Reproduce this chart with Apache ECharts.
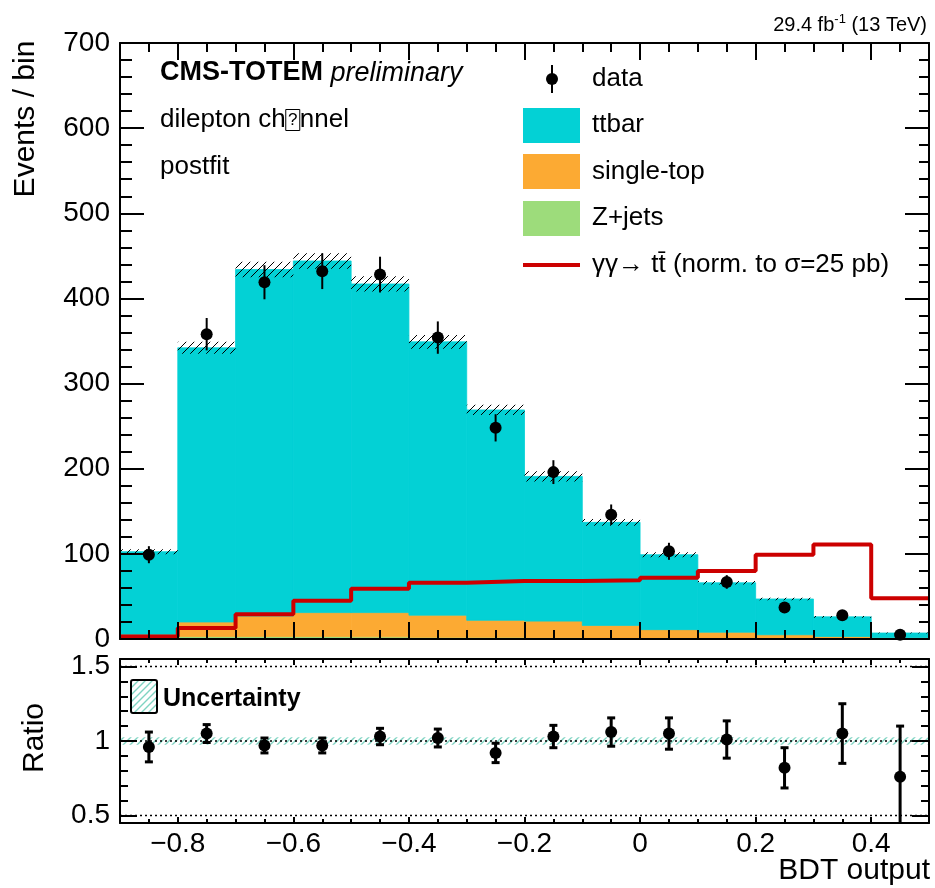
<!DOCTYPE html>
<html>
<head>
<meta charset="utf-8">
<title>BDT output</title>
<script src="https://cdn.jsdelivr.net/npm/echarts@6/dist/echarts.min.js"></script>
<style>
  html, body { margin: 0; padding: 0; background: #fff; }
  #chart { width: 935px; height: 888px; }
</style>
</head>
<body>
<div id="chart"></div>
<script>
// bin edges of the BDT output histogram
const binEdges = [-0.9, -0.8, -0.7, -0.6, -0.5, -0.4, -0.3, -0.2, -0.1, 0, 0.1, 0.2, 0.3, 0.4, 0.5];

// stacked backgrounds (events / bin)
const zjets = [1, 3, 3, 3, 2.5, 2, 2, 1.5, 1, 1, 0.5, 0.5, 0.3, 0.2];
const singleTop = [4.5, 17, 24, 28, 28.5, 26, 20, 19.5, 15, 10, 7.5, 4.5, 2.7, 1.3];
const ttbar = [97, 322, 407, 413, 386, 321, 247, 170, 121, 88, 58, 42, 23, 5.5];
const mcUnc = [3, 7, 9, 9, 9, 8, 6, 6, 4, 3, 2, 1.5, 1, 0.5];

// signal gg -> tt (norm. to 25 pb)
const signal = [3, 13, 29, 45, 59, 66, 68, 68, 69, 72, 80, 99, 111, 48];

// data
const dataCounts = [99, 358, 419, 432, 428, 354, 248, 196, 146, 103, 67, 37, 28, 5];
const dataErr = [10, 19, 20, 21, 21, 19, 16, 14, 12, 10, 8, 6, 5, 2.2];

// ratio panel
const ratio = [0.96, 1.05, 0.97, 0.97, 1.03, 1.02, 0.92, 1.03, 1.06, 1.05, 1.01, 0.82, 1.05, 0.76];
const ratioErr = [0.10, 0.06, 0.05, 0.05, 0.055, 0.06, 0.065, 0.075, 0.095, 0.105, 0.125, 0.135, 0.2, 0.34];
const ratioUnc = [0.025, 0.025, 0.025, 0.025, 0.025, 0.025, 0.025, 0.025, 0.025, 0.025, 0.025, 0.025, 0.025, 0.025];
const refLines = [0.5, 1, 1.5];

// ticks
const xTicks = [-0.8, -0.6, -0.4, -0.2, 0, 0.2, 0.4];
const ratioTicks = [0.5, 1, 1.5];

const FONT = 'Liberation Sans, Arial, Helvetica, sans-serif';
const cTT = '#03d1d5', cST = '#fcaa33', cZ = '#9ddc7b', cSig = '#cc0000', cBand = '#7fd4c2';

const xMinor = [];
for (let k = -18; k <= 10; k++) xMinor.push(+(k * 0.05).toFixed(2));
const rMinor = [];
for (let k = 5; k <= 15; k++) rMinor.push(+(k * 0.1).toFixed(1));

function hatch(color, step, lw) {
  const c = document.createElement('canvas');
  c.width = step; c.height = step;
  const g = c.getContext('2d');
  g.strokeStyle = color; g.lineWidth = lw;
  g.beginPath();
  g.moveTo(0, step); g.lineTo(step, 0);
  g.moveTo(-2, 2); g.lineTo(2, -2);
  g.moveTo(step - 2, step + 2); g.lineTo(step + 2, step - 2);
  g.stroke();
  return c;
}
const blackHatch = { image: hatch('#000', 8, 1), repeat: 'repeat' };
const tealHatch = { image: hatch(cBand, 7, 1.4), repeat: 'repeat' };

// build rect items [x0, x1, ylow, yhigh]
const zRects = [], stRects = [], ttRects = [], uncRects = [], rUncRects = [];
const dataPts = [], dataBars = [], ratioPts = [], ratioBars = [], sigLine = [];
for (let i = 0; i < ttbar.length; i++) {
  const x0 = binEdges[i], x1 = binEdges[i + 1], xc = (x0 + x1) / 2;
  const a = zjets[i], b = a + singleTop[i], c = b + ttbar[i];
  zRects.push([x0, x1, 0, a]);
  stRects.push([x0, x1, a, b]);
  ttRects.push([x0, x1, b, c]);
  uncRects.push([x0, x1, c - mcUnc[i], c + mcUnc[i]]);
  rUncRects.push([x0, x1, 1 - ratioUnc[i], 1 + ratioUnc[i]]);
  dataPts.push([xc, dataCounts[i]]);
  dataBars.push([xc, dataCounts[i] - dataErr[i], dataCounts[i] + dataErr[i]]);
  ratioPts.push([xc, ratio[i]]);
  ratioBars.push([xc, ratio[i] - ratioErr[i], ratio[i] + ratioErr[i]]);
  sigLine.push([x0, signal[i]]);
}
sigLine.push([binEdges[binEdges.length - 1], signal[signal.length - 1]]);

function rectSeries(data, fill, z, xi, yi, solid) {
  return {
    type: 'custom', xAxisIndex: xi, yAxisIndex: yi, z: z, data: data,
    encode: { x: [0, 1], y: [2, 3] },
    renderItem: function (params, api) {
      const p0 = api.coord([api.value(0), api.value(3)]);
      const p1 = api.coord([api.value(1), api.value(2)]);
      const style = { fill: fill };
      if (solid) { style.stroke = fill; style.lineWidth = 0.8; }
      return {
        type: 'rect',
        shape: { x: p0[0], y: p0[1], width: p1[0] - p0[0], height: p1[1] - p0[1] },
        style: style
      };
    }
  };
}

function barSeries(data, xi, yi, width, cap, yClamp) {
  return {
    type: 'custom', xAxisIndex: xi, yAxisIndex: yi, z: 6, data: data,
    encode: { x: 0, y: [1, 2] },
    renderItem: function (params, api) {
      const lo = yClamp != null ? Math.max(api.value(1), yClamp) : api.value(1);
      const p0 = api.coord([api.value(0), lo]);
      const p1 = api.coord([api.value(0), api.value(2)]);
      const st = { stroke: '#000', lineWidth: width };
      const kids = [{ type: 'line', shape: { x1: p0[0], y1: p0[1], x2: p1[0], y2: p1[1] }, style: st }];
      if (cap) {
        kids.push({ type: 'line', shape: { x1: p1[0] - cap, y1: p1[1], x2: p1[0] + cap, y2: p1[1] }, style: st });
        if (yClamp == null || api.value(1) > yClamp)
          kids.push({ type: 'line', shape: { x1: p0[0] - cap, y1: p0[1], x2: p0[0] + cap, y2: p0[1] }, style: st });
      }
      return { type: 'group', children: kids };
    }
  };
}

const tickStyle = { color: '#000', width: 2 };

function xAx(grid, pos, ticks, len, opts) {
  opts = opts || {};
  return {
    type: 'value', gridIndex: grid, position: pos, min: -0.9, max: 0.5, z: 10,
    axisLine: { show: !!opts.line, onZero: false, lineStyle: { color: '#000', width: 2 } },
    axisTick: { show: true, inside: true, length: len, customValues: ticks, lineStyle: tickStyle },
    axisLabel: opts.labels ? {
      show: true, customValues: ticks, color: '#000', fontFamily: FONT, fontSize: 28, margin: 7,
      formatter: function (v) { return v < 0 ? '\u2212' + Math.abs(v).toFixed(1) : (v === 0 ? '0' : v.toFixed(1)); }
    } : { show: false },
    splitLine: { show: false }
  };
}

function yAx(grid, pos, min, max, opts) {
  const ax = {
    type: 'value', gridIndex: grid, position: pos, min: min, max: max, z: 10,
    axisLine: { show: !!opts.line, onZero: false, lineStyle: { color: '#000', width: 2 } },
    axisTick: { show: true, inside: true, length: opts.len, lineStyle: tickStyle },
    axisLabel: { show: false },
    splitLine: { show: false }
  };
  if (opts.interval) ax.interval = opts.interval;
  if (opts.ticks) ax.axisTick.customValues = opts.ticks;
  if (opts.minor) ax.minorTick = { show: true, splitNumber: opts.minor, length: opts.minorLen, lineStyle: tickStyle };
  if (opts.labels) ax.axisLabel = {
    show: true, color: '#000', fontFamily: FONT, fontSize: 28, margin: 10,
    customValues: opts.ticks
  };
  return ax;
}

const grids = [
  { left: 120, right: 6, top: 43, bottom: 249 },
  { left: 120, right: 6, top: 43, bottom: 249 },
  { left: 120, right: 6, top: 659, bottom: 65 },
  { left: 120, right: 6, top: 659, bottom: 65 }
];

const chart = echarts.init(document.getElementById('chart'));

const txt = function (x, y, text, size, extra) {
  return {
    type: 'text', x: x, y: y, z: 20,
    style: Object.assign({ text: text, fill: '#000', fontFamily: FONT, fontSize: size, verticalAlign: 'middle' }, extra || {})
  };
};

const legendX = 592;
const graphics = [
  txt(927, 25, '29.4 fb{sup|-1} (13 TeV)', 20, { align: 'right', rich: { sup: { fontSize: 13, fontFamily: FONT, padding: [0, 0, 12, 0] } } }),
  Object.assign(txt(26, 119, 'Events / bin', 30, { align: 'center' }), { rotation: Math.PI / 2 }),
  Object.assign(txt(35, 738, 'Ratio', 30, { align: 'center' }), { rotation: Math.PI / 2 }),
  txt(930, 871, 'BDT output', 30, { align: 'right' }),
  txt(160, 73, '{b|CMS-TOTEM} {i|preliminary}', 27, {
    rich: {
      b: { fontSize: 27, fontWeight: 'bold', fontFamily: FONT },
      i: { fontSize: 27, fontStyle: 'italic', fontFamily: FONT }
    }
  }),
  txt(160, 120, 'dilepton ch{q|?}nnel', 26, {
    rich: { q: { fontSize: 17, fontFamily: FONT, borderColor: '#000', borderWidth: 1, width: 14, height: 21, align: 'center', lineHeight: 21 } }
  }),
  txt(160, 167, 'postfit', 26),
  // legend
  { type: 'line', z: 20, shape: { x1: 552, y1: 65, x2: 552, y2: 93 }, style: { stroke: '#000', lineWidth: 2 } },
  { type: 'circle', z: 20, shape: { cx: 552, cy: 79, r: 6 }, style: { fill: '#000' } },
  txt(legendX, 79, 'data', 26),
  { type: 'rect', z: 20, shape: { x: 523, y: 108, width: 57, height: 35 }, style: { fill: cTT } },
  txt(legendX, 125, 'ttbar', 26),
  { type: 'rect', z: 20, shape: { x: 523, y: 154, width: 57, height: 35 }, style: { fill: cST } },
  txt(legendX, 172, 'single-top', 26),
  { type: 'rect', z: 20, shape: { x: 523, y: 201, width: 57, height: 35 }, style: { fill: cZ } },
  txt(legendX, 218, 'Z+jets', 26),
  { type: 'line', z: 20, shape: { x1: 523, y1: 265, x2: 580, y2: 265 }, style: { stroke: cSig, lineWidth: 4 } },
  txt(legendX, 265, '\u03b3\u03b3\u2192 tt\u0304 (norm. to \u03c3=25 pb)', 26),
  // ratio legend
  { type: 'rect', z: 20, shape: { x: 131, y: 680, width: 26, height: 33, r: 2 }, style: { fill: tealHatch, stroke: '#000', lineWidth: 2 } },
  txt(163, 699, 'Uncertainty', 25, { fontWeight: 'bold' })
];

const option = {
  animation: false,
  backgroundColor: '#fff',
  grid: grids,
  xAxis: [
    xAx(0, 'bottom', xTicks, 17, { line: true }),
    xAx(0, 'top', xTicks, 17, { line: true }),
    xAx(1, 'bottom', xMinor, 9),
    xAx(1, 'top', xMinor, 9),
    xAx(2, 'bottom', xTicks, 6, { line: true, labels: true }),
    xAx(2, 'top', xTicks, 6, { line: true }),
    xAx(3, 'bottom', xMinor, 4),
    xAx(3, 'top', xMinor, 4)
  ],
  yAxis: [
    yAx(0, 'left', 0, 700, { line: true, labels: true, interval: 100, len: 24, minor: 5, minorLen: 12 }),
    yAx(0, 'right', 0, 700, { line: true, interval: 100, len: 24, minor: 5, minorLen: 10 }),
    Object.assign(yAx(1, 'left', 0, 700, { len: 0 }), { show: false }),
    yAx(2, 'left', 0.45, 1.55, { line: true, labels: true, ticks: ratioTicks, len: 17 }),
    yAx(2, 'right', 0.45, 1.55, { line: true, ticks: ratioTicks, len: 17 }),
    yAx(3, 'left', 0.45, 1.55, { ticks: rMinor, len: 8 }),
    yAx(3, 'right', 0.45, 1.55, { ticks: rMinor, len: 8 })
  ],
  graphic: graphics,
  series: [
    rectSeries(zRects, cZ, 2, 0, 0, true),
    rectSeries(stRects, cST, 2, 0, 0, true),
    rectSeries(ttRects, cTT, 2, 0, 0, true),
    {
      type: 'line', xAxisIndex: 0, yAxisIndex: 0, z: 3, data: sigLine, step: 'end',
      symbol: 'none', lineStyle: { color: cSig, width: 4 }
    },
    rectSeries(uncRects, blackHatch, 4, 0, 0),
    barSeries(dataBars, 0, 0, 2, 0, null),
    {
      type: 'scatter', xAxisIndex: 0, yAxisIndex: 0, z: 7, data: dataPts,
      symbol: 'circle', symbolSize: 12, itemStyle: { color: '#000', opacity: 1 }
    },
    // ratio panel
    rectSeries(rUncRects, tealHatch, 2, 4, 3),
    {
      type: 'custom', xAxisIndex: 4, yAxisIndex: 3, z: 3, data: refLines.map(function (v) { return [v]; }),
      encode: { y: 0 },
      renderItem: function (params, api) {
        const p0 = api.coord([-0.9, api.value(0)]);
        const p1 = api.coord([0.5, api.value(0)]);
        return {
          type: 'line', shape: { x1: p0[0], y1: p0[1], x2: p1[0], y2: p1[1] },
          style: { stroke: '#000', lineWidth: 1.5, lineDash: [2, 3] }
        };
      }
    },
    barSeries(ratioBars, 4, 3, 3, 4, 0.45),
    {
      type: 'scatter', xAxisIndex: 4, yAxisIndex: 3, z: 7, data: ratioPts,
      symbol: 'circle', symbolSize: 12, itemStyle: { color: '#000', opacity: 1 }
    }
  ]
};

chart.setOption(option);
</script>
</body>
</html>
